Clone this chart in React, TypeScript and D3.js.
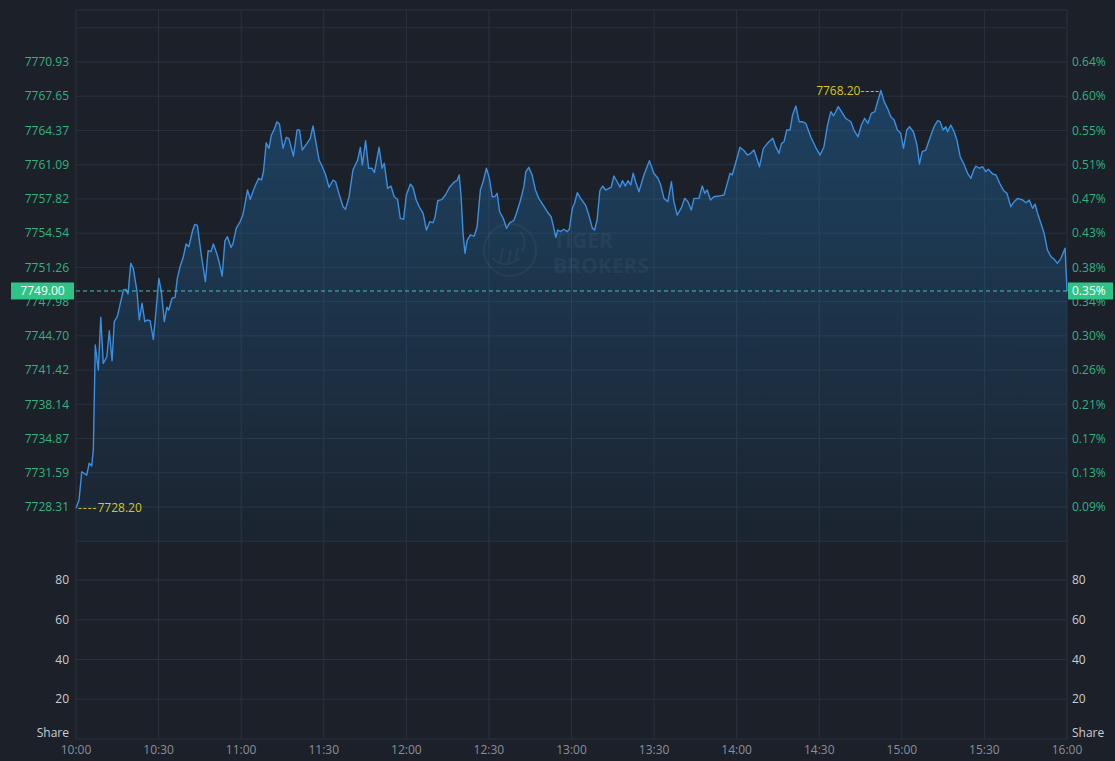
import React from "react";
import * as d3 from "d3";

// ---- data ----
const timeLabels = ["10:00", "10:30", "11:00", "11:30", "12:00", "12:30", "13:00", "13:30", "14:00", "14:30", "15:00", "15:30", "16:00"];
const priceLabels = ["7728.31", "7731.59", "7734.87", "7738.14", "7741.42", "7744.70", "7747.98", "7751.26", "7754.54", "7757.82", "7761.09", "7764.37", "7767.65", "7770.93"];
const pctLabels = ["0.09%", "0.13%", "0.17%", "0.21%", "0.26%", "0.30%", "0.34%", "0.38%", "0.43%", "0.47%", "0.51%", "0.55%", "0.60%", "0.64%"];
const volumeTicks = [20, 40, 60, 80];
const lastPrice = 7749.0;
const lastPct = "0.35%";
const lowPoint: [number, number] = [0, 7728.2];
const highPoint: [number, number] = [292.4, 7768.2];

// [minutes after 10:00, price]
const tradeTape: [number, number][] = [
  [0, 7728.2], [1.1, 7728.98], [2.1, 7731.69], [3.9, 7731.37], [4.8, 7732.5], [5.7, 7732.24], [6.3, 7733.77],
  [7.0, 7743.82], [8.1, 7741.43], [9.0, 7746.48], [9.9, 7742.07], [11.2, 7742.7], [12.1, 7745.19], [13.1, 7742.32],
  [13.9, 7746.06], [15.0, 7746.54], [17.2, 7749.09], [18.1, 7749.16], [18.9, 7748.71], [19.9, 7751.65], [20.8, 7751.17],
  [22.1, 7749.09], [23.0, 7746.22], [24.0, 7747.82], [25.0, 7746.06], [25.9, 7746.22], [26.9, 7746.15], [28.1, 7744.37],
  [29.1, 7747.18], [30.1, 7750.21], [31.0, 7748.93], [32.1, 7746.06], [33.0, 7747.44], [33.7, 7747.18], [34.9, 7748.3],
  [36.0, 7748.39], [36.8, 7750.21], [37.8, 7751.32], [39.0, 7752.28], [40.0, 7753.5], [41.0, 7753.24], [42.4, 7754.84],
  [43.2, 7755.38], [44.1, 7755.29], [45.6, 7752.28], [47.0, 7749.89], [48.0, 7752.86], [49.0, 7752.76], [49.9, 7753.5],
  [51.2, 7752.54], [52.1, 7751.65], [53.1, 7750.43], [54.1, 7753.81], [55.0, 7754.2], [56.3, 7753.18], [57.0, 7753.5],
  [58.2, 7755.0], [59.6, 7755.63], [60.6, 7756.27], [61.6, 7757.64], [62.3, 7758.67], [63.3, 7757.78], [64.5, 7758.67],
  [65.5, 7759.31], [66.4, 7759.79], [67.4, 7759.63], [68.1, 7760.42], [69.1, 7763.2], [70.1, 7762.66], [71.0, 7763.94],
  [72.0, 7764.48], [73.0, 7765.21], [73.9, 7764.99], [75.2, 7762.66], [76.4, 7763.72], [77.3, 7763.62], [79.0, 7761.93],
  [80.3, 7764.42], [81.2, 7764.42], [82.2, 7762.5], [83.9, 7763.14], [85.1, 7763.62], [86.1, 7764.8], [87.0, 7763.46],
  [88.3, 7761.54], [89.5, 7760.9], [90.7, 7760.11], [91.9, 7758.93], [93.4, 7759.63], [94.3, 7759.46], [95.5, 7758.35],
  [97.0, 7757.07], [97.9, 7756.82], [99.2, 7758.03], [100.6, 7760.58], [102.3, 7761.54], [103.3, 7762.74], [104.0, 7761.06],
  [105.2, 7763.39], [106.3, 7760.75], [107.5, 7760.75], [108.4, 7760.33], [110.1, 7762.76], [111.2, 7760.75], [112.0, 7761.23],
  [113.2, 7758.83], [114.4, 7759.05], [115.6, 7758.03], [116.8, 7757.78], [117.8, 7755.96], [119.0, 7755.86], [120.0, 7758.19],
  [121.5, 7759.24], [122.4, 7758.93], [123.6, 7757.71], [124.8, 7757.01], [126.1, 7756.44], [127.3, 7754.84], [128.5, 7755.63],
  [129.7, 7755.54], [130.4, 7756.05], [131.4, 7757.64], [133.0, 7757.78], [134.2, 7758.19], [135.7, 7758.93], [137.5, 7759.46],
  [138.4, 7759.56], [139.2, 7760.11], [139.9, 7758.03], [140.6, 7754.52], [141.3, 7752.61], [142.1, 7753.88], [143.3, 7754.36],
  [144.7, 7754.26], [145.7, 7755.15], [146.9, 7758.67], [147.9, 7759.46], [149.1, 7760.75], [150.1, 7759.88], [151.2, 7758.03],
  [152.1, 7758.03], [153.0, 7758.35], [153.9, 7756.59], [155.2, 7755.96], [156.4, 7755.0], [157.6, 7755.54], [159.0, 7755.73],
  [160.0, 7756.44], [161.5, 7757.71], [162.7, 7758.99], [163.4, 7760.42], [164.5, 7760.84], [165.7, 7760.11], [166.9, 7758.67],
  [168.1, 7757.87], [169.7, 7757.23], [171.2, 7756.59], [172.6, 7756.11], [173.6, 7755.0], [174.3, 7754.14], [175.0, 7754.84],
  [176.0, 7754.68], [177.2, 7754.91], [178.4, 7754.68], [179.2, 7754.91], [180.3, 7756.92], [181.1, 7757.4], [182.1, 7758.41],
  [183.3, 7757.87], [185.1, 7757.23], [186.3, 7756.27], [187.6, 7755.0], [188.4, 7754.84], [189.3, 7755.8], [190.3, 7758.6],
  [191.3, 7759.05], [192.4, 7758.67], [193.6, 7758.83], [194.4, 7758.93], [195.4, 7760.01], [196.6, 7759.46], [197.6, 7758.93],
  [198.5, 7759.56], [199.6, 7759.05], [200.5, 7759.56], [201.5, 7759.15], [202.4, 7760.27], [203.3, 7759.46], [204.5, 7758.51],
  [206.3, 7760.11], [208.3, 7761.48], [209.9, 7760.27], [211.4, 7759.79], [212.4, 7759.15], [213.6, 7757.87], [215.0, 7757.55],
  [216.3, 7759.46], [217.2, 7757.55], [218.4, 7756.27], [219.9, 7756.95], [221.1, 7757.87], [222.3, 7757.55], [223.5, 7756.75],
  [224.5, 7757.87], [226.3, 7757.87], [227.5, 7759.05], [228.4, 7758.35], [229.3, 7758.67], [230.5, 7757.71], [231.7, 7758.03],
  [233.5, 7758.09], [235.4, 7758.19], [236.6, 7759.31], [237.6, 7760.27], [238.4, 7760.11], [239.6, 7761.23], [241.2, 7762.76],
  [242.7, 7762.43], [243.9, 7762.02], [245.1, 7762.18], [246.3, 7762.5], [248.3, 7760.9], [249.7, 7762.66], [251.2, 7763.14],
  [253.1, 7763.62], [254.2, 7762.82], [255.4, 7762.18], [256.3, 7763.14], [257.2, 7763.29], [258.2, 7764.42], [259.4, 7764.42],
  [260.3, 7765.85], [261.5, 7766.71], [262.7, 7765.21], [263.9, 7765.21], [265.1, 7765.06], [266.9, 7763.77], [268.7, 7762.76],
  [270.3, 7762.02], [271.7, 7762.82], [273.0, 7764.89], [274.2, 7766.17], [275.2, 7765.76], [276.9, 7766.65], [278.1, 7766.17],
  [279.6, 7765.54], [281.5, 7765.21], [282.7, 7764.35], [284.1, 7763.77], [285.3, 7764.89], [286.5, 7765.54], [287.7, 7765.06],
  [288.9, 7766.01], [290.2, 7766.17], [291.2, 7767.13], [292.4, 7768.2], [293.6, 7767.13], [294.8, 7766.49], [296.0, 7765.69],
  [297.2, 7765.37], [298.4, 7764.42], [299.6, 7764.1], [300.6, 7762.66], [301.8, 7764.42], [302.8, 7764.73], [304.2, 7764.25],
  [305.5, 7762.98], [306.4, 7761.16], [307.4, 7762.34], [308.7, 7762.5], [310.3, 7763.72], [311.7, 7764.73], [313.0, 7765.31],
  [313.9, 7765.21], [315.0, 7764.42], [316.0, 7764.73], [316.6, 7764.25], [317.8, 7764.89], [319.0, 7764.25], [320.0, 7763.46],
  [321.2, 7761.86], [322.4, 7761.23], [323.9, 7760.27], [325.1, 7759.79], [326.1, 7760.58], [326.9, 7760.97], [328.1, 7760.75],
  [329.3, 7760.9], [330.5, 7760.42], [331.4, 7760.65], [333.0, 7760.2], [334.2, 7760.11], [335.7, 7759.24], [337.0, 7758.6],
  [338.2, 7758.35], [339.6, 7757.07], [340.8, 7757.55], [342.1, 7757.87], [343.9, 7757.71], [345.1, 7757.45], [346.3, 7757.71],
  [347.5, 7756.92], [348.4, 7757.33], [349.3, 7756.44], [350.5, 7755.48], [351.7, 7754.52], [352.9, 7752.92], [354.2, 7752.28],
  [355.4, 7752.03], [356.5, 7751.65], [357.8, 7752.13], [359.3, 7753.09], [360, 7749.0],
];

const W = 1115;
const H = 761;
const FONT = "'Open Sans', 'Noto Sans', sans-serif";
const BG = "#1b2029";
const GRID = "#2a323d";
const GREEN = "#34b27f";
const YELLOW = "#dcc424";
const LINE = "#3b8fe2";

export default function App() {
  const left = 76;
  const right = 1067;
  const x = d3.scaleLinear().domain([0, 360]).range([left, right]);
  const pMin = parseFloat(priceLabels[0]);
  const pMax = parseFloat(priceLabels[priceLabels.length - 1]);
  const y = d3.scaleLinear().domain([pMin, pMax]).range([507, 62]);
  const step = (pMax - pMin) / (priceLabels.length - 1);
  const gridPrices = d3.range(-1, priceLabels.length + 1).map((k) => pMin + k * step);
  const panelBottom = y(pMin - step);
  const yv = d3.scaleLinear().domain([0, 80]).range([739, 580]);
  const volTop = 10;
  const volBottom = yv(0);

  const line = d3
    .line<[number, number]>()
    .x((d) => x(d[0]))
    .y((d) => y(d[1]));
  const area = d3
    .area<[number, number]>()
    .x((d) => x(d[0]))
    .y0(panelBottom)
    .y1((d) => y(d[1]));

  const timeTicks = timeLabels.map((t, i) => ({ t, m: i * 30 }));
  const yLast = y(lastPrice);

  return (
    <div style={{ position: "absolute", left: 0, top: 0, width: W, height: H }}>
      <svg width={W} height={H} style={{ display: "block", fontFamily: FONT }}>
        <defs>
          <linearGradient id="fillGrad" gradientUnits="userSpaceOnUse" x1="0" x2="0" y1={y(highPoint[1])} y2={panelBottom}>
            <stop offset="0" stopColor="#2173b5" stopOpacity={0.4} />
            <stop offset="1" stopColor="#2173b5" stopOpacity={0.05} />
          </linearGradient>
        </defs>
        <rect x={0} y={0} width={W} height={H} fill={BG} />

        {/* grid */}
        <line x1={left} x2={right} y1={volTop} y2={volTop} stroke={GRID} />
        {gridPrices.map((p, i) => (
          <line key={"pg" + i} x1={left} x2={right} y1={y(p)} y2={y(p)} stroke={GRID} />
        ))}
        {[0, ...volumeTicks].map((v) => (
          <line key={"vg" + v} x1={left} x2={right} y1={yv(v)} y2={yv(v)} stroke={GRID} />
        ))}
        {timeTicks.map((d) => (
          <line key={"tg" + d.t} x1={x(d.m)} x2={x(d.m)} y1={volTop} y2={volBottom} stroke={GRID} />
        ))}

        {/* area + line */}
        <path d={area(tradeTape) || ""} fill="url(#fillGrad)" />
        <path d={line(tradeTape) || ""} fill="none" stroke={LINE} strokeWidth={1.4} strokeLinejoin="round" />

        {/* watermark */}
        <g opacity={0.045} fill="none" stroke="#ffffff">
          <circle cx={510} cy={250} r={26} strokeWidth={2} />
          <path d="M492,258 Q505,270 520,258 M500,262 L503,248 M508,264 L511,250 M515,262 L518,248 M520,232 Q528,240 522,252" strokeWidth={2} />
        </g>
        <g fill="#ffffff" opacity={0.04} fontWeight={700} fontSize={21} fontFamily={FONT}>
          <text x={553} y={248}>TIGER</text>
          <text x={553} y={273}>BROKERS</text>
        </g>

        {/* last price dashed line */}
        <line x1={left} x2={right} y1={yLast} y2={yLast} stroke="#3ec6b0" strokeDasharray="4,3" strokeWidth={1} />

        {/* price labels */}
        {priceLabels.map((l) => (
          <text key={"pl" + l} x={69} y={y(parseFloat(l))} dy="0.35em" textAnchor="end" fill={GREEN} fontSize={12}>
            {l}
          </text>
        ))}
        {pctLabels.map((l, i) => (
          <text key={"pc" + l} x={1072} y={y(pMin + i * step)} dy="0.35em" fill={GREEN} fontSize={12}>
            {l}
          </text>
        ))}

        {/* last price boxes */}
        <rect x={11} y={yLast - 8.5} width={63} height={17} fill="#2ec486" />
        <text x={42.5} y={yLast} dy="0.35em" textAnchor="middle" fill="#ffffff" fontSize={12}>
          {lastPrice.toFixed(2)}
        </text>
        <rect x={1068} y={yLast - 8.5} width={45} height={17} fill="#2ec486" />
        <text x={1072} y={yLast} dy="0.35em" fill="#ffffff" fontSize={12}>
          {lastPct}
        </text>

        {/* high / low markers */}
        <text x={x(lowPoint[0]) + 2} y={y(lowPoint[1])} dy="0.35em" fill={YELLOW} fontSize={12} letterSpacing={0}>
          <tspan letterSpacing={1}>----</tspan>
          {lowPoint[1].toFixed(2)}
        </text>
        <text x={x(highPoint[0]) - 1} y={y(highPoint[1])} dy="0.35em" textAnchor="end" fill={YELLOW} fontSize={12}>
          {highPoint[1].toFixed(2)}
          <tspan letterSpacing={1}>----</tspan>
        </text>

        {/* volume labels */}
        {volumeTicks.map((v) => (
          <g key={"vl" + v}>
            <text x={69} y={yv(v)} dy="0.35em" textAnchor="end" fill="#c9cdd3" fontSize={12}>
              {v}
            </text>
            <text x={1072} y={yv(v)} dy="0.35em" fill="#c9cdd3" fontSize={12}>
              {v}
            </text>
          </g>
        ))}
        <text x={69} y={volBottom - 2} textAnchor="end" fill="#c9cdd3" fontSize={12}>
          Share
        </text>
        <text x={1072} y={volBottom - 2} fill="#c9cdd3" fontSize={12}>
          Share
        </text>

        {/* time labels */}
        {timeTicks.map((d) => (
          <text key={"tl" + d.t} x={x(d.m)} y={750} dy="0.35em" textAnchor="middle" fill="#8a9099" fontSize={12}>
            {d.t}
          </text>
        ))}
      </svg>
    </div>
  );
}
